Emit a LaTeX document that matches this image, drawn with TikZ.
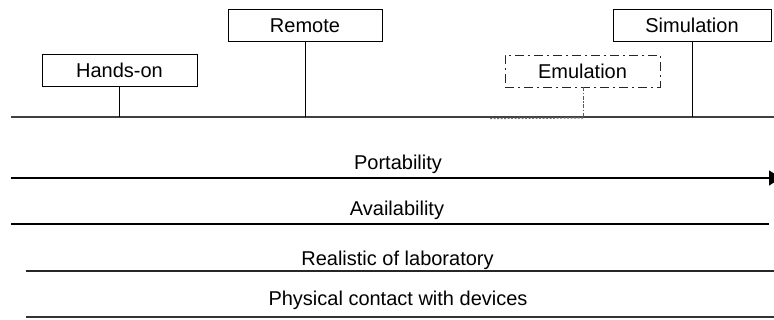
\documentclass[tikz,border=0pt]{standalone}
\usepackage{fontspec}
\setmainfont{Liberation Sans}
\usetikzlibrary{arrows.meta}
\begin{document}
\begin{tikzpicture}[x=1pt,y=-1pt,
  every node/.style={font=\fontsize{20}{24}\selectfont},
  tech/.style={draw=black,line width=0.9pt,inner sep=0pt,
    minimum height=32pt,text height=14.3pt,text depth=0pt},
  stem/.style={draw=black,line width=0.9pt},
  axisline/.style={draw=black!75,line width=1.6pt},
  scale line/.style={draw=black,line width=1.3pt},
  caption/.style={anchor=base}]
\useasboundingbox (0,0) rectangle (774,320);
\clip (0,0) rectangle (774,320);

% categories above the time line
\node[tech,minimum width=155pt] (hands) at (119.5,70.5) {Hands-on};
\node[tech,minimum width=154pt] (remote) at (305,25) {Remote};
\node[tech,minimum width=158pt] (simul) at (692,25) {Simulation};
\node[tech,minimum width=155pt,draw=black!85,
  dash pattern=on 9pt off 4pt on 2pt off 4pt] (emul) at (582.5,71) {Emulation};

% main line and the points where the categories meet it
\coordinate (lineL) at (11,117);
\coordinate (lineR) at (774,117);
\coordinate (hFoot) at (119.5,117);
\coordinate (rFoot) at (305,117);
\coordinate (sFoot) at (692,117);
\coordinate (eFoot) at (583,118);
\coordinate (eTail) at (490,118.5);
\draw[axisline] (lineL) -- (lineR);
\draw[stem] (hands.south) -- (hFoot);
\draw[stem] (remote.south) -- (rFoot);
\draw[stem] (simul.south) -- (sFoot);
\draw[draw=black!65,line width=1pt,dash pattern=on 4pt off 1.5pt on 1.5pt off 1.5pt]
  (emul.south -| eFoot) -- (eFoot);
\draw[draw=black!55,line width=1.2pt,dash pattern=on 2pt off 1.5pt] (eTail) -- (eFoot);

% criteria scales (the arrow tip runs past the right edge)
\node[caption] (port) at (398,170) {Portability};
\coordinate (pL) at (11,178);
\coordinate (pR) at (781,178);
\draw[scale line,-{Triangle[length=12pt,width=15pt]}] (pL) -- (pR);

\node[caption] (avail) at (397,215.5) {Availability};
\coordinate (aL) at (11,224);
\coordinate (aR) at (769,224);
\draw[scale line] (aL) -- (aR);

\node[caption] (real) at (397.5,265.5) {Realistic of laboratory};
\coordinate (rL) at (26,271);
\coordinate (rR) at (774,271);
\draw[scale line,draw=black!85] (rL) -- (rR);

\node[caption] (phys) at (398,305.5) {Physical contact with devices};
\coordinate (cL) at (26,317);
\coordinate (cR) at (774,317);
\draw[scale line,draw=black!80] (cL) -- (cR);
\end{tikzpicture}
\end{document}
